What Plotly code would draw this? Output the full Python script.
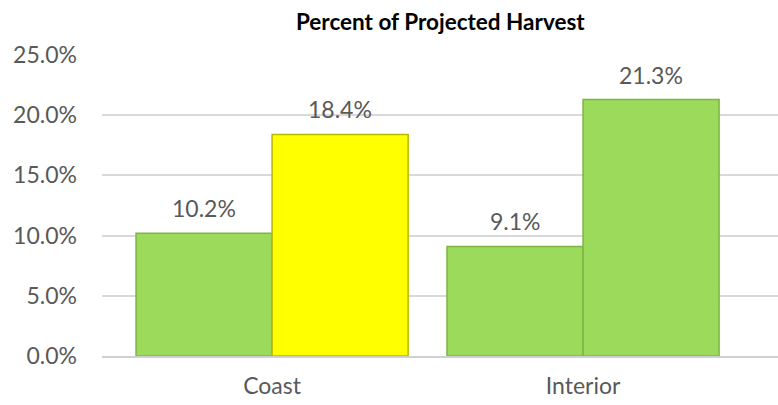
import plotly.graph_objects as go

categories = ["Coast", "Interior"]
series_a = [10.2, 9.1]
series_b = [18.4, 21.3]
colors_a = ["#9CDA5B", "#9CDA5B"]
colors_b = ["#FFFF00", "#9CDA5B"]
edges_a = ["#7DB544", "#7DB544"]
edges_b = ["#B8B800", "#7DB544"]
y_ticks = [0, 5, 10, 15, 20, 25]

FONT = "Lato, 'Open Sans', sans-serif"
GRAY = "#595959"

bar_w = 0.4375
fig = go.Figure()
fig.add_trace(go.Bar(x=categories, y=series_a, width=bar_w, offset=-bar_w,
                     marker=dict(color=colors_a, line=dict(color=edges_a, width=1.5)),
                     showlegend=False, hoverinfo="skip"))
fig.add_trace(go.Bar(x=categories, y=series_b, width=bar_w, offset=0,
                     marker=dict(color=colors_b, line=dict(color=edges_b, width=1.5)),
                     showlegend=False, hoverinfo="skip"))

for i, (a, b) in enumerate(zip(series_a, series_b)):
    for val, off in ((a, -bar_w / 2), (b, bar_w / 2)):
        fig.add_annotation(x=i + off, y=val, text=f"{val:.1f}%", showarrow=False,
                           yanchor="middle", yshift=25,
                           font=dict(family=FONT, size=23, color=GRAY))

fig.update_layout(
    width=778, height=405,
    margin=dict(l=102, r=0, t=55, b=49),
    paper_bgcolor="white", plot_bgcolor="white",
    barmode="overlay",
    title=dict(text="<b>Percent of Projected Harvest</b>", x=0.566, xanchor="center",
               y=0.946, yanchor="middle", xref="container", yref="container",
               font=dict(family=FONT, size=22.5, color="#000000")),
    xaxis=dict(type="category", range=[-0.547, 1.627], showgrid=False,
               showline=True, linecolor="#D0D0D0", linewidth=2,
               ticks="", ticklabelstandoff=8,
               tickfont=dict(family=FONT, size=23, color=GRAY)),
    yaxis=dict(range=[0, 25], tickvals=y_ticks,
               ticktext=[f"{v:.1f}%" for v in y_ticks],
               showgrid=True, gridcolor="#D9D9D9", gridwidth=1.5,
               zeroline=False, showline=False, ticks="",
               ticklabelstandoff=24,
               tickfont=dict(family=FONT, size=23, color=GRAY)),
)

fig.write_html("out.html")
